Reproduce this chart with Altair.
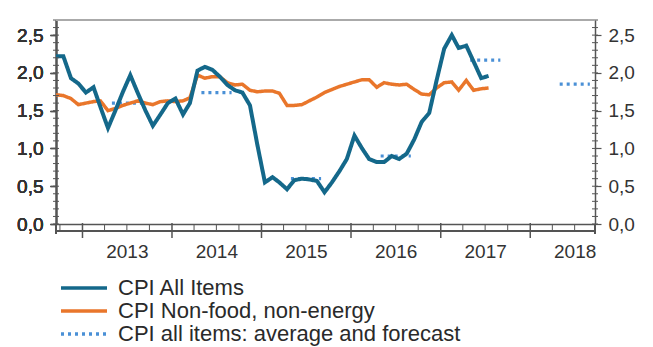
import altair as alt
import pandas as pd

# ---------------- data ----------------
S1 = "CPI All Items"
S2 = "CPI Non-food, non-energy"
S3 = "CPI all items: average and forecast"

month_dates = [f"{y}-{m:02d}-15T00:00:00" for y in range(2012, 2018) for m in range(1, 13)
               if (y, m) >= (2012, 9) and (y, m) <= (2017, 7)]

cpi_all = [2.22, 2.22, 1.93, 1.86,
           1.74, 1.81, 1.55, 1.27, 1.50, 1.75, 1.97, 1.73, 1.50, 1.30, 1.45, 1.60,
           1.66, 1.45, 1.60, 2.03, 2.08, 2.04, 1.95, 1.84, 1.77, 1.74, 1.57, 1.05,
           0.55, 0.62, 0.55, 0.46, 0.58, 0.60, 0.59, 0.57, 0.42, 0.55, 0.70, 0.86,
           1.17, 1.00, 0.86, 0.82, 0.82, 0.90, 0.86, 0.93, 1.12, 1.35, 1.47, 1.90,
           2.32, 2.50, 2.33, 2.36, 2.15, 1.93, 1.96]

cpi_core = [1.71, 1.70, 1.66, 1.58,
            1.60, 1.62, 1.63, 1.50, 1.53, 1.57, 1.60, 1.63, 1.60, 1.58, 1.62, 1.63,
            1.62, 1.63, 1.67, 1.97, 1.93, 1.95, 1.95, 1.87, 1.84, 1.85, 1.77, 1.75,
            1.76, 1.76, 1.73, 1.57, 1.57, 1.58, 1.63, 1.68, 1.74, 1.78, 1.82, 1.85,
            1.88, 1.91, 1.91, 1.81, 1.87, 1.85, 1.84, 1.85, 1.78, 1.72, 1.71, 1.80,
            1.87, 1.88, 1.77, 1.90, 1.77, 1.79, 1.80]

avg_years = [2013, 2014, 2015, 2016, 2017, 2018]
avg_values = [1.60, 1.74, 0.60, 0.90, 2.17, 1.85]

year_labels = [2013, 2014, 2015, 2016, 2017, 2018]
y_major = [0.0, 0.5, 1.0, 1.5, 2.0, 2.5]
y_minor = [round(i * 0.1, 1) for i in range(0, 28)]
year_starts = [f"{y}-01-01T00:00:00" for y in range(2013, 2019)]
quarter_starts = [f"{y}-{m:02d}-01T00:00:00" for y in range(2012, 2019) for m in (4, 7, 10)
                  if f"{y}-{m:02d}" > "2012-09" and f"{y}-{m:02d}" < "2018-10"]

# ---------------- tables ----------------
df_all = pd.DataFrame({"date": month_dates, "value": cpi_all, "series": S1, "seg": "a"})
df_core = pd.DataFrame({"date": month_dates, "value": cpi_core, "series": S2, "seg": "c"})
avg_rows = []
for y, v in zip(avg_years, avg_values):
    avg_rows.append({"date": f"{y}-05-01T00:00:00", "value": v, "series": S3, "seg": str(y)})
    avg_rows.append({"date": f"{y}-09-01T00:00:00", "value": v, "series": S3, "seg": str(y)})
df_avg = pd.DataFrame(avg_rows)

W, H = 539, 204
FONT = "Liberation Sans"
AXIS_COL = "#555555"

x_scale = alt.Scale(domain=[alt.DateTime(year=2012, month=9, date=15),
                            alt.DateTime(year=2018, month=9, date=22)])
y_scale = alt.Scale(domain=[0, 2.7], nice=False)

color_scale = alt.Scale(domain=[S1, S2, S3], range=["#14688a", "#e9762b", "#4a90d6"])
dash_scale = alt.Scale(domain=[S1, S2, S3], range=[[1, 0], [1, 0], [3, 4]])

legend = alt.Legend(title=None, orient="none", legendX=16, legendY=256,
                    symbolType="M-2.3,0H2.3", symbolSize=400, symbolStrokeWidth=3.5,
                    labelFont=FONT, labelFontSize=22, labelColor="#2a2a2a", labelLimit=0,
                    labelOffset=22, rowPadding=0, padding=0)

x_axis = alt.Axis(title=None, values=[alt.DateTime(year=y, month=7, date=1) for y in year_labels],
                  labelExpr="timeFormat(datum.value, '%Y')", tickSize=0, labelPadding=18,
                  labelFont=FONT, labelFontSize=19, labelColor="#333333",
                  domainColor=AXIS_COL, domainWidth=1.5, grid=False, labelFlush=False,
                  ticks=False)

y_axis_left = alt.Axis(title=None, orient="left", values=y_major,
                       labelExpr="replace(format(datum.value, '.1f'), '.', ',')",
                       tickSize=6, tickColor=AXIS_COL, tickWidth=1.2, labelPadding=7,
                       labelFont=FONT, labelFontSize=19, labelColor="#333333",
                       domainColor=AXIS_COL, domainWidth=1.5, grid=False)
y_axis_right = alt.Axis(title=None, orient="right", values=y_major,
                        labelExpr="replace(format(datum.value, '.1f'), '.', ',')",
                        tickSize=6, tickColor=AXIS_COL, tickWidth=1.2, labelPadding=7,
                        labelFont=FONT, labelFontSize=19, labelColor="#333333",
                        domainColor=AXIS_COL, domainWidth=1.5, grid=False)

X_ENC = alt.X("date:T", scale=x_scale, axis=x_axis)

def line_layer(df, width):
    return alt.Chart(df).mark_line(strokeWidth=width, clip=True, strokeCap="butt").encode(
        x=X_ENC,
        y=alt.Y("value:Q", scale=y_scale, axis=y_axis_left),
        color=alt.Color("series:N", scale=color_scale, legend=legend),
        strokeDash=alt.StrokeDash("series:N", scale=dash_scale, legend=legend),
        detail="seg:N",
    )

avg_layer = line_layer(df_avg, 3.2)
core_layer = line_layer(df_core, 3.5)
all_layer = line_layer(df_all, 4)

# right-hand axis (same scale, drawn on the right)
right_axis_layer = alt.Chart(df_core).mark_line(opacity=0).encode(
    x=X_ENC,
    y=alt.Y("value:Q", scale=y_scale, axis=y_axis_right),
)

# minor ticks on the y axes
df_yminor = pd.DataFrame({"v": y_minor})
yminor_left = alt.Chart(df_yminor).mark_rule(color=AXIS_COL, strokeWidth=1).encode(
    y=alt.Y("v:Q", scale=y_scale, axis=y_axis_left), x=alt.value(-3), x2=alt.value(3))
yminor_right = alt.Chart(df_yminor).mark_rule(color=AXIS_COL, strokeWidth=1).encode(
    y=alt.Y("v:Q", scale=y_scale, axis=y_axis_left), x=alt.value(W - 3), x2=alt.value(W + 3))

# x axis ticks: year boundaries (major) and quarters (minor)
df_ymaj = pd.DataFrame({"date": year_starts})
df_q = pd.DataFrame({"date": quarter_starts})
xmajor = alt.Chart(df_ymaj).mark_rule(color=AXIS_COL, strokeWidth=1.5).encode(
    x=X_ENC, y=alt.value(H - 1), y2=alt.value(H + 14))
xminor = alt.Chart(df_q).mark_rule(color=AXIS_COL, strokeWidth=1).encode(
    x=X_ENC, y=alt.value(H), y2=alt.value(H + 8))
second_line = alt.Chart(df_ymaj).mark_rule(color=AXIS_COL, strokeWidth=1.5).encode(
    x=alt.value(-1), x2=alt.value(W + 1), y=alt.value(H + 7))
top_frame = alt.Chart(df_ymaj).mark_rule(color="#aaaaaa", strokeWidth=2).encode(
    x=alt.value(0), x2=alt.value(W), y=alt.value(0))
left_ext = alt.Chart(df_ymaj).mark_rule(color=AXIS_COL, strokeWidth=1.5).encode(
    x=alt.value(0), y=alt.value(H), y2=alt.value(H + 10))
right_ext = alt.Chart(df_ymaj).mark_rule(color=AXIS_COL, strokeWidth=1.5).encode(
    x=alt.value(W), y=alt.value(H), y2=alt.value(H + 10))

chart = alt.layer(
    avg_layer, core_layer, all_layer, right_axis_layer,
    yminor_left, yminor_right, xmajor, xminor, second_line, top_frame, left_ext, right_ext,
).resolve_axis(y="independent").properties(
    width=W, height=H,
    autosize=alt.AutoSizeParams(type="none"),
    padding={"left": 56, "top": 20, "right": 58, "bottom": 123},
    background="white",
).configure_view(stroke=None)

chart.save("out.html", embed_options={"renderer": "svg", "actions": False})
